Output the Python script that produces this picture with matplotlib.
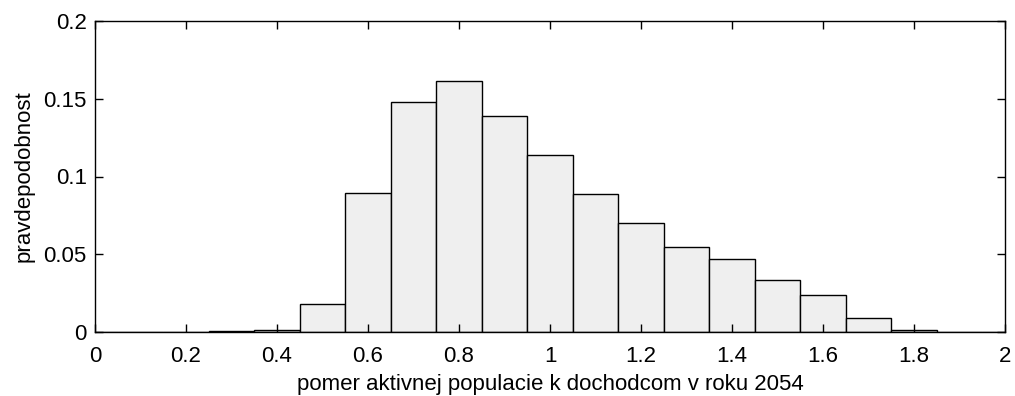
import matplotlib.pyplot as plt
import numpy as np

plt.rcParams['font.family'] = ['Liberation Sans', 'DejaVu Sans']

# stredy tried histogramu a relativne pocetnosti
stredy = np.round(np.arange(0.0, 2.01, 0.1), 1)
pravd = [0.0, 0.0, 0.0, 0.0004, 0.001, 0.018, 0.0895, 0.1477, 0.1612,
         0.1387, 0.1136, 0.0887, 0.070, 0.0545, 0.0467, 0.0336, 0.024,
         0.0088, 0.001, 0.0, 0.0]

xticks = [0, 0.2, 0.4, 0.6, 0.8, 1, 1.2, 1.4, 1.6, 1.8, 2]
yticks = [0, 0.05, 0.1, 0.15, 0.2]

fig = plt.figure(figsize=(10.15, 3.96), dpi=100)
ax = fig.add_axes([95/1015, 1 - 332/396, 910/1015, 311/396])

ax.bar(stredy, pravd, width=0.1, color='#efefef', edgecolor='black',
       linewidth=1.0, clip_on=True)

ax.set_xlim(0, 2)
ax.set_ylim(0, 0.2)
ax.set_xticks(xticks)
ax.set_xticklabels(['0', '0.2', '0.4', '0.6', '0.8', '1', '1.2', '1.4',
                    '1.6', '1.8', '2'])
ax.set_yticks(yticks)
ax.set_yticklabels(['0', '0.05', '0.1', '0.15', '0.2'])
ax.tick_params(direction='in', top=True, right=True, length=6, width=1,
               labelsize=16)
ax.tick_params(axis='x', pad=10)
ax.tick_params(axis='y', pad=6)
for s in ax.spines.values():
    s.set_linewidth(1.0)

ax.set_xlabel('pomer aktivnej populacie k dochodcom v roku 2054', fontsize=16,
              labelpad=5)
ax.set_ylabel('pravdepodobnost', fontsize=16, labelpad=6)

fig.savefig('out.png', dpi=100)
